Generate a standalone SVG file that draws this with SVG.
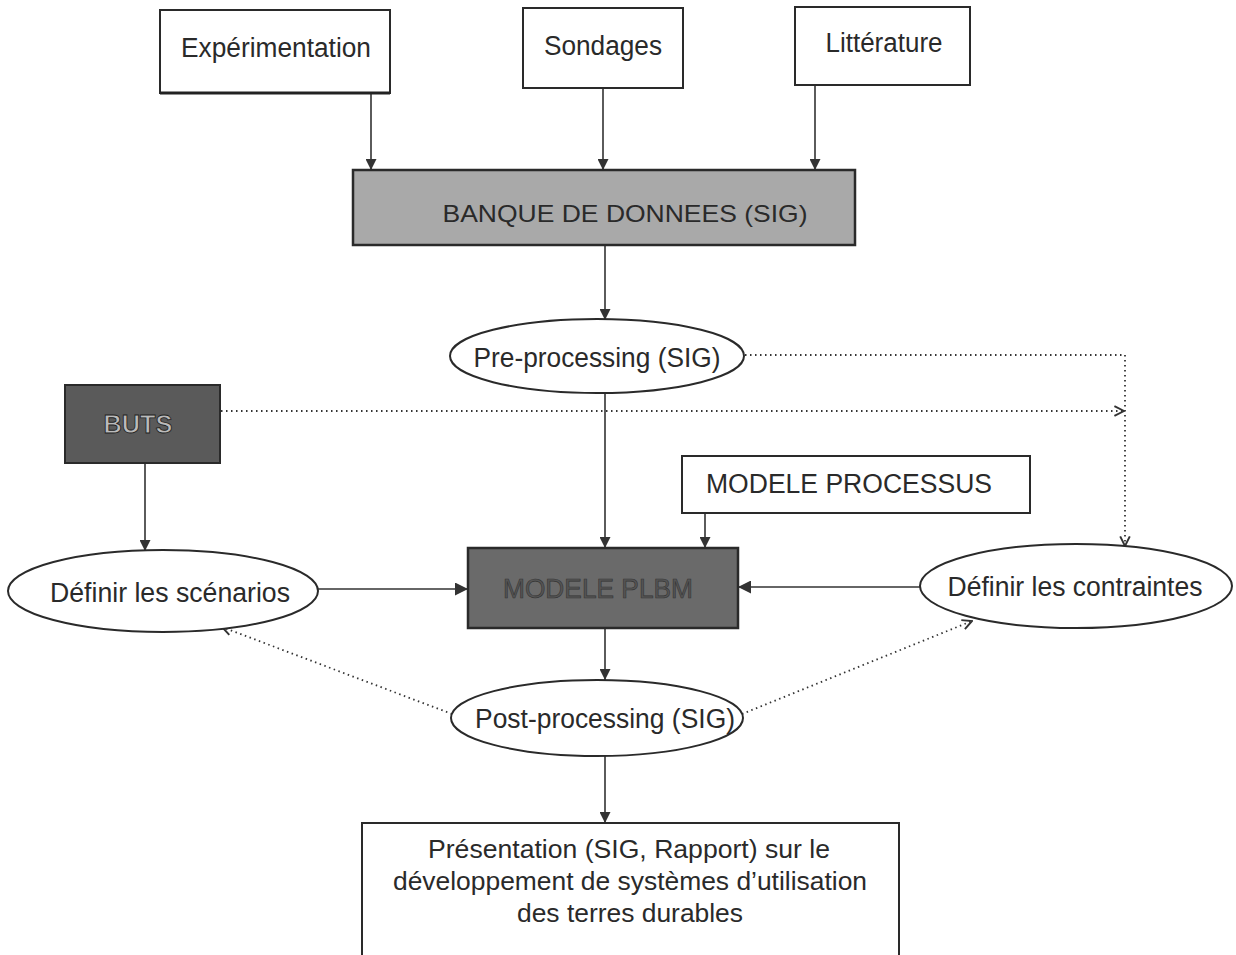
<svg xmlns="http://www.w3.org/2000/svg" width="1236" height="955" viewBox="0 0 1236 955">
<style>
.box{fill:#fff;stroke:#2a2a2a;stroke-width:2}
.ell{fill:#fff;stroke:#2a2a2a;stroke-width:2}
.t{font-family:"Liberation Sans",Arial,sans-serif;fill:#2a2a2a;text-anchor:middle}
.n{font-size:27px}
.ln{stroke:#333;stroke-width:1.6;fill:none}
.dot{stroke:#333;stroke-width:1.8;fill:none;stroke-dasharray:1.5 3.5}
</style>
<defs>
<marker id="ah" viewBox="0 0 10 10" refX="10" refY="5" markerWidth="11" markerHeight="11" markerUnits="userSpaceOnUse" orient="auto">
<path d="M0,0 L10,5 L0,10 z" fill="#333"/>
</marker>
<marker id="ahb" viewBox="0 0 10 10" refX="10" refY="5" markerWidth="13" markerHeight="13" markerUnits="userSpaceOnUse" orient="auto">
<path d="M0,0 L10,5 L0,10 z" fill="#333"/>
</marker>
<marker id="oa" viewBox="0 0 10 10" refX="9" refY="5" markerWidth="12" markerHeight="12" markerUnits="userSpaceOnUse" orient="auto">
<path d="M1,1 L9,5 L1,9" fill="none" stroke="#333" stroke-width="1.6"/>
</marker>
</defs>
<rect width="1236" height="955" fill="#fff"/>

<g id="connectors">
<line class="ln" x1="371" y1="93" x2="371" y2="170" marker-end="url(#ah)"/>
<line class="ln" x1="603" y1="88" x2="603" y2="170" marker-end="url(#ah)"/>
<line class="ln" x1="815" y1="85" x2="815" y2="170" marker-end="url(#ah)"/>
<line class="ln" x1="605" y1="245" x2="605" y2="320" marker-end="url(#ah)"/>
<line class="ln" x1="605" y1="392" x2="605" y2="548" marker-end="url(#ah)"/>
<line class="ln" x1="705" y1="513" x2="705" y2="548" marker-end="url(#ah)"/>
<line class="ln" x1="145" y1="463" x2="145" y2="551" marker-end="url(#ah)"/>
<line class="ln" x1="318" y1="589" x2="468" y2="589" stroke-width="2.2" marker-end="url(#ahb)"/>
<line class="ln" x1="920" y1="587" x2="738" y2="587" stroke-width="2.2" marker-end="url(#ahb)"/>
<line class="ln" x1="605" y1="628" x2="605" y2="680" marker-end="url(#ah)"/>
<line class="ln" x1="605" y1="756" x2="605" y2="823" marker-end="url(#ah)"/>
<line class="dot" x1="221" y1="411" x2="1124" y2="411" marker-end="url(#oa)"/>
<polyline class="dot" points="745,355 1125,355 1125,546" marker-end="url(#oa)"/>
<line class="dot" x1="452" y1="714" x2="222" y2="627" marker-end="url(#oa)"/>
<line class="dot" x1="742" y1="714" x2="972" y2="621" marker-end="url(#oa)"/>
</g>

<g id="experimentation">
<rect class="box" x="160" y="10" width="230" height="83"/>
<line x1="160" y1="93" x2="390" y2="93" stroke="#222" stroke-width="3"/>
<text class="t n" x="276" y="57" textLength="190" lengthAdjust="spacingAndGlyphs">Expérimentation</text>
</g>
<g id="sondages">
<rect class="box" x="523" y="8" width="160" height="80"/>
<text class="t n" x="603" y="55" textLength="118" lengthAdjust="spacingAndGlyphs">Sondages</text>
</g>
<g id="litterature">
<rect class="box" x="795" y="7" width="175" height="78"/>
<text class="t n" x="884" y="52" textLength="117" lengthAdjust="spacingAndGlyphs">Littérature</text>
</g>
<g id="banque">
<rect x="353" y="170" width="502" height="75" fill="#a9a9a9" stroke="#2a2a2a" stroke-width="2.5"/>
<text class="t" x="625" y="222" font-size="24" textLength="365" lengthAdjust="spacingAndGlyphs">BANQUE DE DONNEES (SIG)</text>
</g>
<g id="preprocessing">
<ellipse class="ell" cx="597" cy="356" rx="147" ry="37"/>
<text class="t n" x="597" y="367" textLength="247" lengthAdjust="spacingAndGlyphs">Pre-processing (SIG)</text>
</g>
<g id="buts">
<rect x="65" y="385" width="155" height="78" fill="#5a5a5a" stroke="#2a2a2a" stroke-width="2"/>
<text x="138" y="433" font-family="Liberation Sans,Arial,sans-serif" font-size="26" font-weight="bold" text-anchor="middle" fill="#bbb" stroke="#222" stroke-width="0.9" textLength="69" lengthAdjust="spacingAndGlyphs">BUTS</text>
</g>
<g id="modele-processus">
<rect class="box" x="682" y="456" width="348" height="57"/>
<text class="t n" x="849" y="493" textLength="286" lengthAdjust="spacingAndGlyphs">MODELE PROCESSUS</text>
</g>
<g id="modele-plbm">
<rect x="468" y="548" width="270" height="80" fill="#6a6a6a" stroke="#2a2a2a" stroke-width="2.5"/>
<text x="598" y="598" font-family="Liberation Sans,Arial,sans-serif" font-size="27" text-anchor="middle" fill="#555" stroke="#333" stroke-width="0.6" textLength="190" lengthAdjust="spacingAndGlyphs">MODELE PLBM</text>
</g>
<g id="scenarios">
<ellipse class="ell" cx="163" cy="591" rx="155" ry="41"/>
<text class="t n" x="170" y="602" textLength="240" lengthAdjust="spacingAndGlyphs">Définir les scénarios</text>
</g>
<g id="contraintes">
<ellipse class="ell" cx="1076" cy="586" rx="156" ry="42"/>
<text class="t n" x="1075" y="596" textLength="255" lengthAdjust="spacingAndGlyphs">Définir les contraintes</text>
</g>
<g id="postprocessing">
<ellipse class="ell" cx="597" cy="718" rx="146" ry="38"/>
<text class="t n" x="605" y="728" textLength="260" lengthAdjust="spacingAndGlyphs">Post-processing (SIG)</text>
</g>
<g id="presentation">
<rect class="box" x="362" y="823" width="537" height="145"/>
<text class="t" x="629" y="858" font-size="26" textLength="402" lengthAdjust="spacingAndGlyphs">Présentation (SIG, Rapport) sur le</text>
<text class="t" x="630" y="890" font-size="26" textLength="474" lengthAdjust="spacingAndGlyphs">développement de systèmes d’utilisation</text>
<text class="t" x="630" y="922" font-size="26" textLength="226" lengthAdjust="spacingAndGlyphs">des terres durables</text>
</g>
</svg>
